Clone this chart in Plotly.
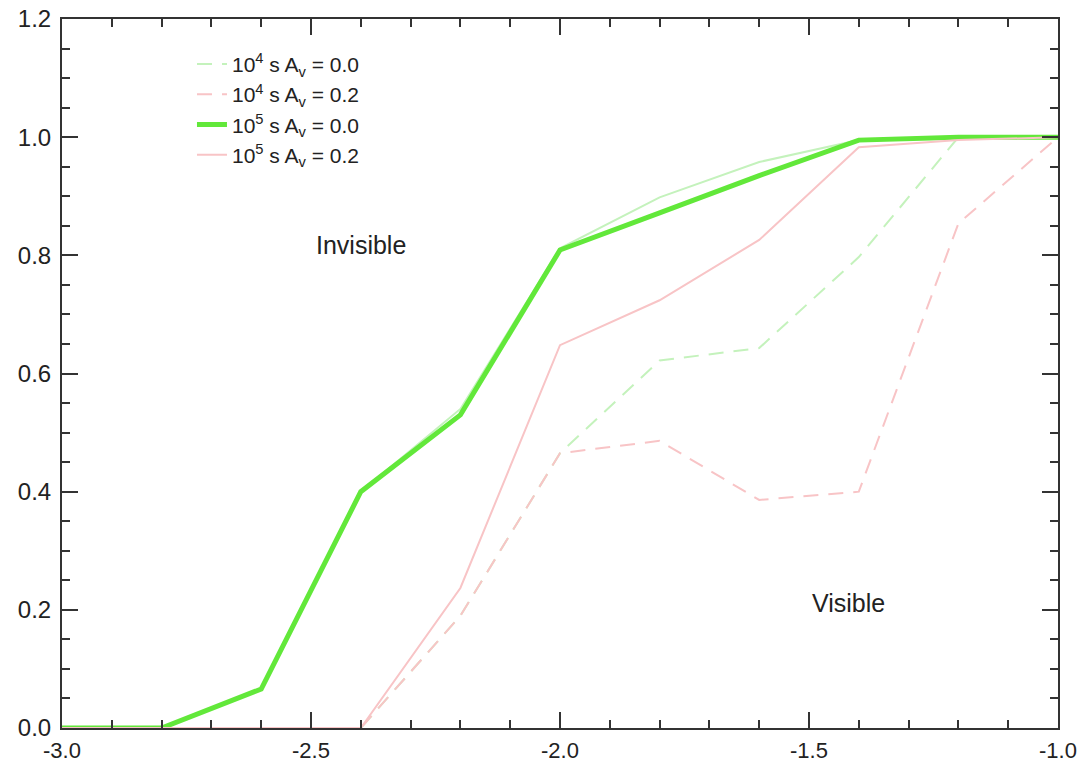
import plotly.graph_objects as go

x_vals = [-3.0, -2.8, -2.6, -2.4, -2.2, -2.0, -1.8, -1.6, -1.4, -1.2, -1.0]

# 10^4 s, Av = 0.0 (light green dashed)
y_1e4_av00 = [0.0, 0.0, 0.0, 0.0, 0.19, 0.465, 0.622, 0.643, 0.797, 1.0, 1.0]
# 10^4 s, Av = 0.2 (pink dashed)
y_1e4_av02 = [0.0, 0.0, 0.0, 0.0, 0.19, 0.465, 0.486, 0.386, 0.40, 0.854, 1.0]
# 10^5 s, Av = 0.0 (thick green)
y_1e5_av00 = [0.0, 0.0, 0.066, 0.40, 0.53, 0.809, 0.872, 0.935, 0.995, 1.0, 1.0]
# companion thin light-green solid curve under the thick one
y_1e5_av00_thin = [0.0, 0.0, 0.066, 0.40, 0.54, 0.812, 0.898, 0.958, 0.995, 1.0, 1.0]
# 10^5 s, Av = 0.2 (pink solid)
y_1e5_av02 = [0.0, 0.0, 0.0, 0.0, 0.237, 0.648, 0.724, 0.826, 0.983, 0.995, 1.0]

legend_names = [
    "10<sup>4</sup> s A<sub>v</sub> = 0.0",
    "10<sup>4</sup> s A<sub>v</sub> = 0.2",
    "10<sup>5</sup> s A<sub>v</sub> = 0.0",
    "10<sup>5</sup> s A<sub>v</sub> = 0.2",
]

region_labels = ["Invisible", "Visible"]
region_x = [-2.4, -1.42]
region_y = [0.817, 0.211]

x_ticks = [-3.0, -2.5, -2.0, -1.5, -1.0]
x_ticktext = ["-3.0", "-2.5", "-2.0", "-1.5", "-1.0"]
y_ticks = [0.0, 0.2, 0.4, 0.6, 0.8, 1.0, 1.2]
y_ticktext = ["0.0", "0.2", "0.4", "0.6", "0.8", "1.0", "1.2"]

light_green = "#c4f2bc"
pink = "#f8c4c6"
bright_green = "#62e83a"
FONT = "Liberation Sans"

fig = go.Figure()
fig.add_trace(go.Scatter(x=x_vals, y=y_1e4_av00, mode="lines", name=legend_names[0],
                         line=dict(color=light_green, width=2, dash="15px,10px")))
fig.add_trace(go.Scatter(x=x_vals, y=y_1e4_av02, mode="lines", name=legend_names[1],
                         line=dict(color=pink, width=2, dash="15px,10px")))
fig.add_trace(go.Scatter(x=x_vals, y=y_1e5_av00_thin, mode="lines", showlegend=False,
                         line=dict(color=light_green, width=2)))
fig.add_trace(go.Scatter(x=x_vals, y=y_1e5_av00, mode="lines", name=legend_names[2],
                         line=dict(color=bright_green, width=5)))
fig.add_trace(go.Scatter(x=x_vals, y=y_1e5_av02, mode="lines", name=legend_names[3],
                         line=dict(color=pink, width=2)))

for t, xx, yy in zip(region_labels, region_x, region_y):
    fig.add_annotation(x=xx, y=yy, text=t, showarrow=False,
                       font=dict(size=25, color="#222222", family=FONT))

axis_common = dict(
    showgrid=False, zeroline=False, showline=True, linecolor="#333333", linewidth=2,
    mirror="ticks", ticks="inside", ticklen=16, tickwidth=2, tickcolor="#333333",
    automargin=False,
)

fig.update_layout(
    width=1087, height=767,
    margin=dict(l=62, r=29, t=19, b=39),
    paper_bgcolor="white", plot_bgcolor="white",
    xaxis=dict(range=[-3.0, -1.0], tickvals=x_ticks, ticktext=x_ticktext,
               ticklabelstandoff=2,
               tickfont=dict(size=22, color="#222222", family=FONT),
               minor=dict(dtick=0.1, ticklen=8, tickwidth=2, tickcolor="#333333", ticks="inside"),
               **axis_common),
    yaxis=dict(range=[0.0, 1.2], tickvals=y_ticks, ticktext=y_ticktext,
               ticklabelstandoff=4,
               tickfont=dict(size=24, color="#222222", family=FONT),
               minor=dict(dtick=0.05, ticklen=8, tickwidth=2, tickcolor="#333333", ticks="inside"),
               **axis_common),
    legend=dict(x=0.1305, y=0.965, xanchor="left", yanchor="top",
                bgcolor="rgba(0,0,0,0)", font=dict(size=21, color="#222222", family=FONT),
                tracegroupgap=0),
    showlegend=True,
)

fig.write_html("out.html")
